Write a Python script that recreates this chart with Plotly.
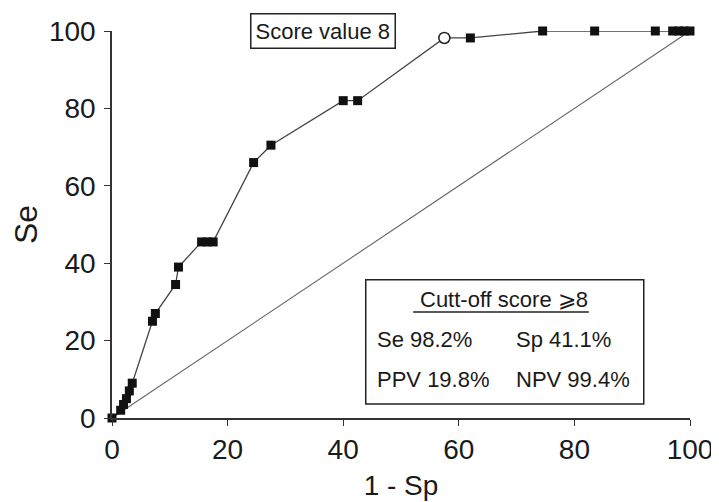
import plotly.graph_objects as go

# ROC curve points (1 - Sp, Se)
one_minus_sp = [0, 1.5, 2, 2.5, 3, 3.5, 7, 7.5, 11, 11.5, 15.5, 16.5, 17.5,
                24.5, 27.5, 40, 42.5, 57.5, 62, 74.5, 83.5, 94, 97, 98, 99, 100]
se = [0, 2, 3.5, 5, 7, 9, 25, 27, 34.5, 39, 45.5, 45.5, 45.5,
      66, 70.5, 82, 82, 98.2, 98.2, 100, 100, 100, 100, 100, 100, 100]

cutoff_x = [57.5]
cutoff_y = [98.2]

diag_x = [0, 100]
diag_y = [0, 100]

tick_vals = [0, 20, 40, 60, 80, 100]

box_title = "Cutt-off score ⩾8"
stats = [["Se 98.2%", "Sp 41.1%"], ["PPV 19.8%", "NPV 99.4%"]]
score_label = "Score value 8"

FONT = "Liberation Sans, Arial, Helvetica, sans-serif"
TXT = "#1a1a1a"

fig = go.Figure()
fig.add_trace(go.Scatter(x=diag_x, y=diag_y, mode="lines",
                         line=dict(color="#666666", width=1.1),
                         hoverinfo="skip", cliponaxis=False))
fig.add_trace(go.Scatter(x=one_minus_sp, y=se, mode="lines+markers",
                         line=dict(color="#444444", width=1.3),
                         marker=dict(symbol="square", size=9, color="#111111"),
                         cliponaxis=False))
fig.add_trace(go.Scatter(x=cutoff_x, y=cutoff_y, mode="markers",
                         marker=dict(symbol="circle", size=11, color="white",
                                     line=dict(color="#222222", width=1.5)),
                         cliponaxis=False))

axis_common = dict(range=[0, 100], tickvals=tick_vals, showgrid=False,
                   zeroline=False, showline=True, linecolor="#333333",
                   linewidth=1.5, ticks="outside", ticklen=6, tickwidth=1.3,
                   tickcolor="#333333", automargin=False,
                   tickfont=dict(family=FONT, size=28, color=TXT))

fig.update_xaxes(**axis_common,
                 title=dict(text="1 - Sp", font=dict(family=FONT, size=28, color=TXT),
                            standoff=11))
fig.update_yaxes(**axis_common, ticklabelstandoff=3,
                 title=dict(text="Se", font=dict(family=FONT, size=32, color=TXT),
                            standoff=8))

# "Score value 8" label
fig.add_annotation(x=36.5, y=100, xref="x", yref="y", text=score_label,
                   showarrow=False, font=dict(family=FONT, size=22, color=TXT),
                   bordercolor="#222222", borderwidth=1.5, borderpad=4,
                   bgcolor="white")

# statistics box
fig.add_shape(type="rect", xref="x", yref="y", x0=43.9, x1=92.0, y0=3.6, y1=35.7,
              line=dict(color="#222222", width=1.5), fillcolor="rgba(0,0,0,0)")
fig.add_annotation(x=67.8, y=30.5, xref="x", yref="y", text=box_title,
                   showarrow=False, font=dict(family=FONT, size=22, color=TXT))
fig.add_shape(type="line", xref="x", yref="y", x0=52.1, x1=82.5, y0=27.4, y1=27.4,
              line=dict(color="#222222", width=1.5))
row_y = [20.4, 10.0]
col_x = [45.5, 69.6]
for r, row in enumerate(stats):
    for c, txt in enumerate(row):
        fig.add_annotation(x=col_x[c], y=row_y[r], xref="x", yref="y", text=txt,
                           showarrow=False, xanchor="left",
                           font=dict(family=FONT, size=22, color=TXT))

# the page body adds an 8px offset; the figure is sized to fit the window
# so the plot area lands at x 111-689, y 31-418 in the window
fig.update_layout(width=711, height=494, showlegend=False,
                  plot_bgcolor="white", paper_bgcolor="white",
                  margin=dict(l=104, r=29, t=23, b=84))

fig.write_html("out.html")
